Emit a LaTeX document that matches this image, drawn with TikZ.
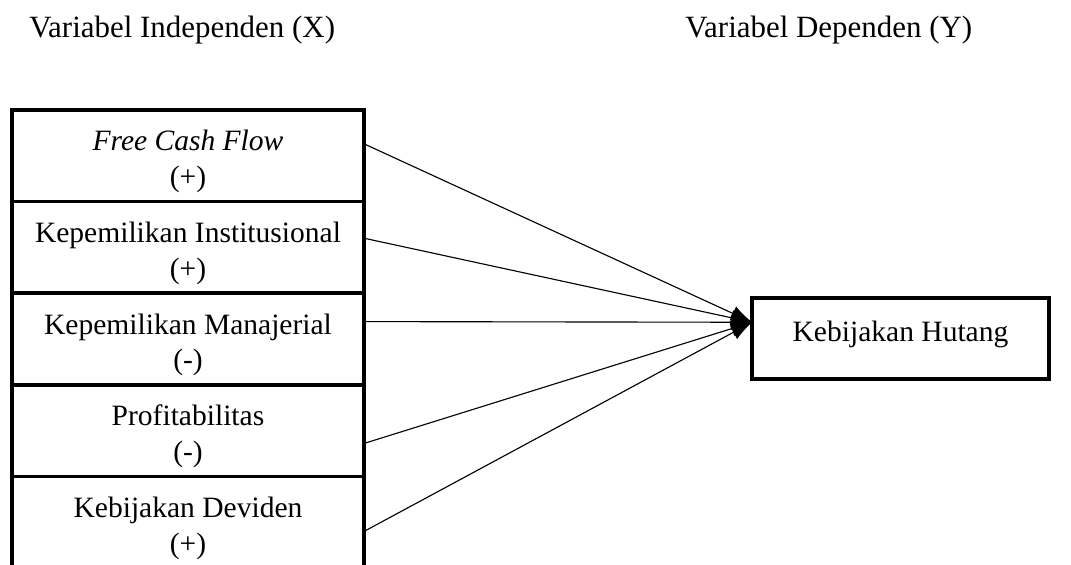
\documentclass[tikz,border=0pt]{standalone}
\usepackage{fontspec}
\setmainfont{Liberation Serif}
\usetikzlibrary{positioning}
\usetikzlibrary{arrows.meta}
\usetikzlibrary{calc}
\tikzset{
  kotak/.style={
    rectangle, draw=black, line width=2.6pt, fill=white,
    minimum width=8.8cm, minimum height=2.29cm, outer sep=0pt,
    align=center, font=\fontsize{21}{25.5}\selectfont, inner sep=2pt,
    execute at begin node=\rule{0pt}{48.5pt}
  },
  kotaky/.style={
    rectangle, draw=black, line width=2.6pt, fill=white,
    minimum width=7.42cm, minimum height=2.03cm, outer sep=0pt,
    align=center, font=\fontsize{21}{25.5}\selectfont, inner sep=2pt,
    text depth=11pt
  },
  judul/.style={anchor=base west, inner sep=0pt, font=\fontsize{22}{26}\selectfont},
  panah/.style={-{Latex[length=15pt, width=11pt]}, line width=0.8pt, draw=black}
}
\begin{document}
\begin{tikzpicture}[x=0.025cm, y=-0.025cm, node distance=0pt]
  \useasboundingbox (0,0) rectangle (1071,565);

  \node[judul] (judulX) at (29,38) {Variabel Independen (X)};
  \node[judul] (judulY) at (685,38) {Variabel Dependen (Y)};

  \node[kotak] (fcf) at (188,155.75) {\textit{Free Cash Flow}\\(+)};
  \node[kotak, below=of fcf] (inst) {Kepemilikan Institusional\\(+)};
  \node[kotak, below=of inst] (manaj) {Kepemilikan Manajerial\\(-)};
  \node[kotak, below=of manaj] (profit) {Profitabilitas\\(-)};
  \node[kotak, below=of profit] (deviden) {Kebijakan Deviden\\(+)};

  \node[kotaky] (hutang) at (900.5,338.5) {Kebijakan Hutang};
  \coordinate (masuk) at ($(hutang.north west)!0.3!(hutang.south west)$);

  \draw[panah] ($(fcf.north east)!0.37!(fcf.south east)$) -- (masuk);
  \draw[panah] ($(inst.north east)!0.40!(inst.south east)$) -- (masuk);
  \draw[panah] ($(manaj.north east)!0.31!(manaj.south east)$) -- (masuk);
  \draw[panah] ($(profit.north east)!0.64!(profit.south east)$) -- (masuk);
  \draw[panah] ($(deviden.north east)!0.60!(deviden.south east)$) -- (masuk);
\end{tikzpicture}
\end{document}
